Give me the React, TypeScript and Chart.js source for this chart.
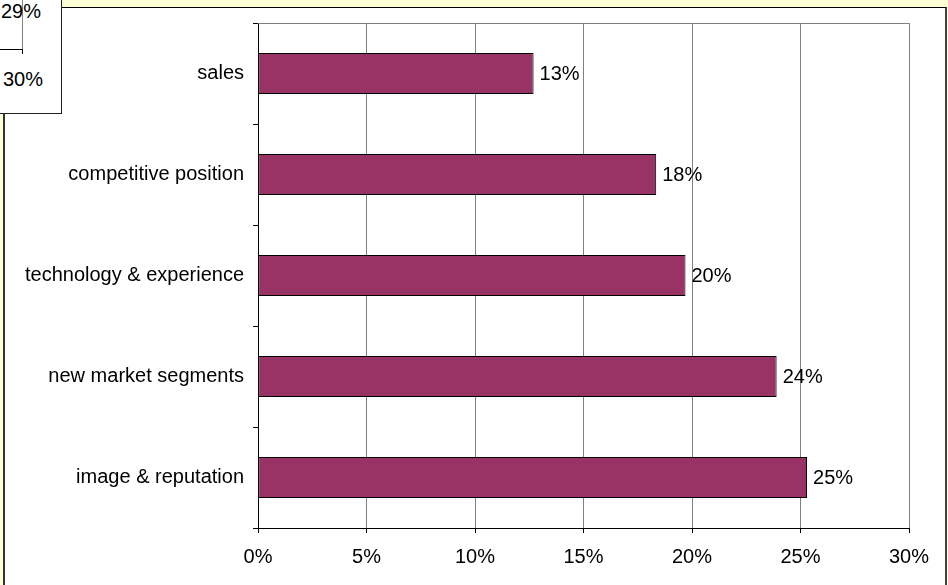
import React, { useEffect, useRef } from "react";
import { Chart, registerables } from "chart.js";

Chart.register(...registerables);

const categories = [
  "sales",
  "competitive position",
  "technology & experience",
  "new market segments",
  "image & reputation",
];
const shares = [12.7, 18.35, 19.7, 23.9, 25.3];
const xTicks = [0, 5, 10, 15, 20, 25, 30];
const overlayLabels = ["29%", "30%"];

const FONT = "'Liberation Sans', Arial, sans-serif";
const BAR_COLOR = "#993366";
const CREAM = "#FFFFD6";

const plotFramePlugin = {
  id: "plotFrame",
  beforeDatasetsDraw(chart: any) {
    const { ctx, chartArea } = chart;
    ctx.save();
    ctx.strokeStyle = "#808080";
    ctx.lineWidth = 1;
    ctx.beginPath();
    ctx.moveTo(chartArea.left, Math.round(chartArea.top) + 0.5);
    ctx.lineTo(chartArea.right, Math.round(chartArea.top) + 0.5);
    ctx.stroke();
    ctx.restore();
  },
};

const valueLabelPlugin = {
  id: "valueLabels",
  afterDatasetsDraw(chart: any) {
    const { ctx } = chart;
    const meta = chart.getDatasetMeta(0);
    ctx.save();
    ctx.fillStyle = "#000";
    ctx.font = `20px ${FONT}`;
    ctx.textAlign = "left";
    ctx.textBaseline = "middle";
    meta.data.forEach((bar: any, i: number) => {
      const v = chart.data.datasets[0].data[i] as number;
      ctx.fillText(Math.round(v) + "%", bar.x + 6, bar.y + 1);
    });
    ctx.restore();
  },
};

export default function App() {
  const canvasRef = useRef<HTMLCanvasElement | null>(null);

  useEffect(() => {
    if (!canvasRef.current) return;
    const chart = new Chart(canvasRef.current, {
      type: "bar",
      data: {
        labels: categories,
        datasets: [
          {
            data: shares,
            backgroundColor: BAR_COLOR,
            borderColor: "#000",
            borderWidth: 1,
            borderSkipped: false,
            barPercentage: 0.406,
            categoryPercentage: 1,
          },
        ],
      },
      options: {
        indexAxis: "y",
        animation: false,
        responsive: false,
        devicePixelRatio: 1,
        layout: { padding: { left: 0, top: 23, right: 39, bottom: 0 } },
        plugins: {
          legend: { display: false },
          tooltip: { enabled: false },
        },
        scales: {
          x: {
            type: "linear",
            min: 0,
            max: 30,
            position: "bottom",
            afterFit: (s: any) => {
              s.height = 57;
            },
            afterBuildTicks: (s: any) => {
              s.ticks = xTicks.map((v) => ({ value: v }));
            },
            ticks: {
              callback: (v: any) => v + "%",
              color: "#000",
              font: { size: 20, family: FONT },
              padding: 12,
              maxRotation: 0,
              autoSkip: false,
            },
            grid: {
              color: (c: any) => (c.tick && c.tick.value === 0 ? "#000" : "#808080"),
              tickColor: "#000",
              tickLength: 5,
              lineWidth: 1,
            },
            border: { color: "#000", width: 1 },
          },
          y: {
            afterFit: (s: any) => {
              s.width = 258;
            },
            ticks: {
              color: "#000",
              font: { size: 20, family: FONT },
              padding: 9,
            },
            grid: {
              offset: true,
              drawOnChartArea: false,
              tickLength: 5,
              tickColor: "#000",
              color: "#000",
            },
            border: { color: "#000", width: 1 },
          },
        },
      },
      plugins: [plotFramePlugin, valueLabelPlugin],
    } as any);
    return () => chart.destroy();
  }, []);

  return (
    <div
      style={{
        position: "fixed",
        left: 0,
        top: 0,
        width: 948,
        height: 585,
        background: CREAM,
        overflow: "hidden",
        fontFamily: FONT,
      }}
    >
      <div
        style={{
          position: "absolute",
          left: 3,
          top: 7,
          width: 940,
          height: 600,
          background: "#fff",
          borderLeft: "2px solid #333",
          borderTop: "1px solid #000",
          borderRight: "2px solid #444",
        }}
      />
      <canvas
        ref={canvasRef}
        width={948}
        height={585}
        style={{ position: "absolute", left: 0, top: 0, width: 948, height: 585 }}
      />
      <div
        style={{
          position: "absolute",
          left: 0,
          top: 0,
          width: 61,
          height: 113,
          background: "#fff",
          borderRight: "1px solid #222",
          borderBottom: "1px solid #222",
        }}
      >
        <div style={{ position: "absolute", left: 22, top: 0, width: 1, height: 49, background: "#808080" }} />
        <div style={{ position: "absolute", left: 0, top: 49, width: 23, height: 1, background: "#000" }} />
        <div style={{ position: "absolute", left: 22, top: 49, width: 1, height: 5, background: "#000" }} />
        <div
          style={{
            position: "absolute",
            left: 1,
            top: -1,
            fontSize: 20,
            lineHeight: "24px",
            color: "#000",
            whiteSpace: "nowrap",
          }}
        >
          {overlayLabels[0]}
        </div>
        <div
          style={{
            position: "absolute",
            left: 3,
            top: 67,
            fontSize: 20,
            lineHeight: "24px",
            color: "#000",
            whiteSpace: "nowrap",
          }}
        >
          {overlayLabels[1]}
        </div>
      </div>
    </div>
  );
}
